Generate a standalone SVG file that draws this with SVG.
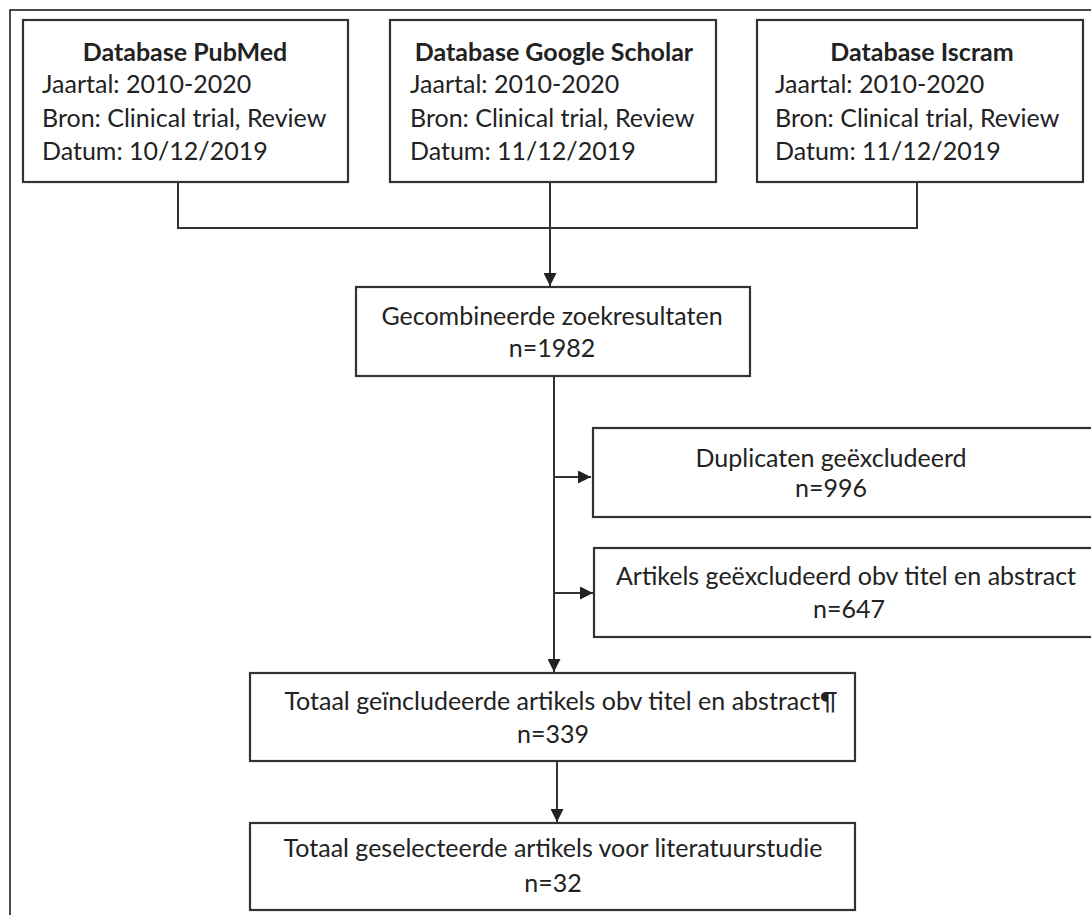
<svg xmlns="http://www.w3.org/2000/svg" width="1091" height="915" viewBox="0 0 1091 915">
  <style>
    .frame { fill: none; stroke: #111; stroke-width: 1.5; }
    .box { fill: #fff; stroke: #333; stroke-width: 2.2; }
    .wire { fill: none; stroke: #333; stroke-width: 2; }
    text { font-family: Lato, "Open Sans", "Liberation Sans", sans-serif; font-size: 25px; fill: #222; }
    .title { font-weight: bold; text-anchor: middle; }
    .mid { text-anchor: middle; }
  </style>
  <defs>
    <marker id="arrow" markerUnits="userSpaceOnUse" markerWidth="14" markerHeight="13" refX="13" refY="6.5" orient="auto">
      <path d="M0,0 L13,6.5 L0,13 Z" fill="#222"/>
    </marker>
  </defs>

  <rect width="1091" height="915" fill="#fff"/>
  <!-- page frame: only top and left edges fall inside the view -->
  <path class="frame" d="M10,915 V10 H1091"/>

  <g id="connectors">
    <path class="wire" d="M178,182 V228 H917 V182"/>
    <path class="wire" d="M550,182 V286" marker-end="url(#arrow)"/>
    <path class="wire" d="M554,376 V672" marker-end="url(#arrow)"/>
    <path class="wire" d="M554,477 H591" marker-end="url(#arrow)"/>
    <path class="wire" d="M554,593 H593" marker-end="url(#arrow)"/>
    <path class="wire" d="M557,761 V822" marker-end="url(#arrow)"/>
  </g>

  <g id="db-pubmed">
    <rect class="box" x="23" y="20" width="325" height="162"/>
    <text class="title" x="185" y="61">Database PubMed</text>
    <text x="42" y="93">Jaartal: 2010-2020</text>
    <text x="42" y="127">Bron: Clinical trial, Review</text>
    <text x="42" y="160">Datum: 10/12/2019</text>
  </g>

  <g id="db-google-scholar">
    <rect class="box" x="390" y="20" width="326" height="162"/>
    <text class="title" x="554" y="61">Database Google Scholar</text>
    <text x="410" y="93">Jaartal: 2010-2020</text>
    <text x="410" y="127">Bron: Clinical trial, Review</text>
    <text x="410" y="160">Datum: 11/12/2019</text>
  </g>

  <g id="db-iscram">
    <rect class="box" x="757" y="20" width="326" height="162"/>
    <text class="title" x="922" y="61">Database Iscram</text>
    <text x="775" y="93">Jaartal: 2010-2020</text>
    <text x="775" y="127">Bron: Clinical trial, Review</text>
    <text x="775" y="160">Datum: 11/12/2019</text>
  </g>

  <g id="combined">
    <rect class="box" x="356" y="287" width="394" height="89"/>
    <text class="mid" x="552" y="325">Gecombineerde zoekresultaten</text>
    <text class="mid" x="552" y="357">n=1982</text>
  </g>

  <g id="duplicates">
    <rect class="box" x="593" y="428" width="520" height="89"/>
    <text class="mid" x="831" y="467">Duplicaten geëxcludeerd</text>
    <text class="mid" x="831" y="497">n=996</text>
  </g>

  <g id="excluded-title-abstract">
    <rect class="box" x="594" y="548" width="520" height="89"/>
    <text class="mid" x="846" y="585">Artikels geëxcludeerd obv titel en abstract</text>
    <text class="mid" x="849" y="618">n=647</text>
  </g>

  <g id="included">
    <rect class="box" x="250" y="673" width="605" height="88"/>
    <text class="mid" x="561" y="710">Totaal geïncludeerde artikels obv titel en abstract¶</text>
    <text class="mid" x="553" y="743">n=339</text>
  </g>

  <g id="selected">
    <rect class="box" x="250" y="823" width="605" height="87"/>
    <text class="mid" x="553" y="857">Totaal geselecteerde artikels voor literatuurstudie</text>
    <text class="mid" x="553" y="892">n=32</text>
  </g>
</svg>
